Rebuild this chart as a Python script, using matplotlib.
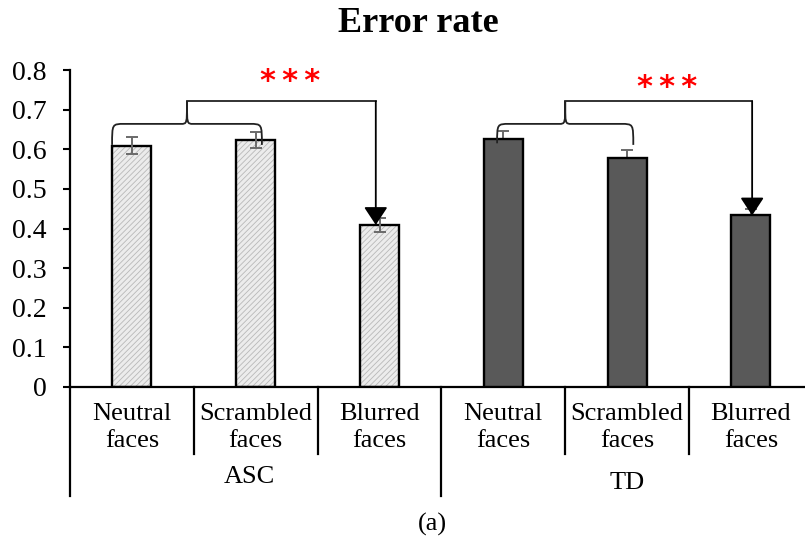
import numpy as np
import matplotlib
matplotlib.use("Agg")
import matplotlib.pyplot as plt
from matplotlib.path import Path
from matplotlib.patches import PathPatch

# chart values
groups = ['ASC', 'TD']
conditions = ['Neutral\nfaces', 'Scrambled\nfaces', 'Blurred\nfaces']
asc_vals = [0.609, 0.624, 0.409]
asc_err = [0.021, 0.020, 0.018]
td_vals = [0.625, 0.579, 0.433]
td_err = [0.021, 0.020, 0.015]
yticks = [0, 0.1, 0.2, 0.3, 0.4, 0.5, 0.6, 0.7, 0.8]
ytick_labels = ['0', '0.1', '0.2', '0.3', '0.4', '0.5', '0.6', '0.7', '0.8']
signif = '*\u2009*\u2009*'

plt.rcParams['font.family'] = ['Liberation Serif', 'DejaVu Serif']
plt.rcParams['hatch.linewidth'] = 0.6

fig = plt.figure(figsize=(8.05, 5.41), dpi=100)
ax = fig.add_axes([70 / 805, 154 / 541, 735 / 805, 317 / 541])

bar_w = 0.315
asc_x = np.arange(3)
td_x = np.arange(3) + 3

# ASC bars: light hatched fill
ax.bar(asc_x, asc_vals, bar_w, color='#ececec', edgecolor='#b8b8b8',
       hatch='//////', linewidth=0, zorder=2)
ax.bar(asc_x, asc_vals, bar_w, fill=False, edgecolor='black',
       linewidth=1.7, zorder=3)
ax.errorbar(asc_x, asc_vals, yerr=asc_err, fmt='none', ecolor='#6a6a6a',
            elinewidth=1.4, capsize=4, capthick=1.4, zorder=4)

# TD bars: dark gray
ax.bar(td_x, td_vals, bar_w, color='#595959', edgecolor='black',
       linewidth=1.7, zorder=3)
ax.errorbar(td_x, td_vals, yerr=td_err, fmt='none', ecolor='#6a6a6a',
            elinewidth=1.4, capsize=4, capthick=1.4, zorder=2)

ax.set_ylim(0, 0.8)
ax.set_xlim(-0.5, -0.5 + 735 / 123.8)
ax.set_yticks(yticks)
ax.set_yticklabels(ytick_labels, fontsize=20)
ax.tick_params(axis='y', direction='out', length=5, width=1.5, pad=12)
ax.set_xticks([])
for s in ['top', 'right']:
    ax.spines[s].set_visible(False)
ax.spines['left'].set_linewidth(1.6)
ax.spines['bottom'].set_linewidth(1.6)

# category grid below the axis
xt = ax.get_xaxis_transform()
for b in [0.5, 1.5, 3.5, 4.5]:
    ax.plot([b, b], [0, -0.211], color='black', lw=1.6, transform=xt,
            clip_on=False)
for b in [-0.5, 2.5]:
    ax.plot([b, b], [0, -0.344], color='black', lw=1.6, transform=xt,
            clip_on=False)

for i, lab in enumerate(conditions * 2):
    ax.text(i, -0.128, lab, transform=xt, ha='center', va='center',
            fontsize=19, linespacing=1.25)
ax.text(0.95, -0.284, groups[0], transform=xt, ha='center', va='center',
        fontsize=19)
ax.text(4.0, -0.303, groups[1], transform=xt, ha='center', va='center',
        fontsize=19)

fig.text(418 / 805, 1 - 24 / 541, 'Error rate', ha='center', va='center',
         fontsize=26, fontweight='bold')
fig.text(432 / 805, 1 - 524 / 541, '(a)', ha='center', va='center',
         fontsize=19)


def brace(x0, x1, y_tip_l, y_tip_r, y_mid, y_peak):
    xm = (x0 + x1) / 2
    dx = 0.05
    verts = [
        (x0, y_tip_l),
        (x0, y_mid), (x0, y_mid), (x0 + dx * 2, y_mid),
        (xm - dx, y_mid),
        (xm, y_mid), (xm, y_mid), (xm, y_peak),
        (xm, y_mid), (xm, y_mid), (xm + dx, y_mid),
        (x1 - dx * 2, y_mid),
        (x1, y_mid), (x1, y_mid), (x1, y_tip_r),
    ]
    codes = [Path.MOVETO,
             Path.CURVE4, Path.CURVE4, Path.CURVE4,
             Path.LINETO,
             Path.CURVE4, Path.CURVE4, Path.CURVE4,
             Path.CURVE4, Path.CURVE4, Path.CURVE4,
             Path.LINETO,
             Path.CURVE4, Path.CURVE4, Path.CURVE4]
    ax.add_patch(PathPatch(Path(verts, codes), fill=False, edgecolor='#222222',
                           lw=1.3, zorder=5, clip_on=False))
    return xm


def compare(vals, xs, x0_off, x1_off, x_arrow_off, tips, star_y):
    y_mid, y_peak = 0.664, 0.721
    xm = brace(xs[0] + x0_off, xs[1] + x1_off, tips[0], tips[1], y_mid, y_peak)
    xa = xs[2] + x_arrow_off
    ax.plot([xm, xa], [y_peak, y_peak], color='#222222', lw=1.3, zorder=5)
    ax.annotate('', xy=(xa, vals[2]), xytext=(xa, y_peak),
                arrowprops=dict(arrowstyle='-|>,head_length=0.5,head_width=0.33',
                                color='black', lw=1.3, mutation_scale=22,
                                shrinkA=0, shrinkB=0), zorder=6)
    ax.text((xm + xa) / 2 + 0.07, star_y, signif, ha='center', va='center',
            color='red', fontsize=22, fontweight='bold', family='DejaVu Sans')


compare(asc_vals, asc_x, -0.16, 0.05, -0.03, (0.611, 0.611), 0.772)
compare(td_vals, td_x, -0.05, 0.05, 0.01, (0.615, 0.611), 0.757)

fig.savefig('out.png', dpi=100)
